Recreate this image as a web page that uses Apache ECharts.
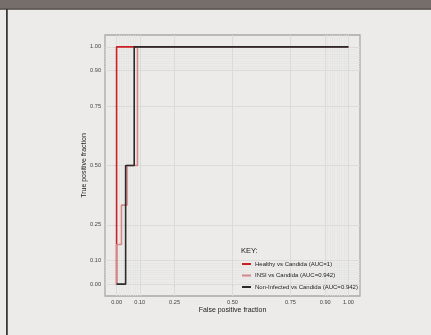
<!DOCTYPE html>
<html>
<head>
<meta charset="utf-8">
<script src="https://cdn.jsdelivr.net/npm/echarts@6/dist/echarts.min.js"></script>
<style>html,body{margin:0;padding:0;background:#ecebe9;}#c{width:431px;height:335px;}</style>
</head>
<body>
<div id="c"></div>
<script>
var majorTicks = [0, 0.1, 0.25, 0.5, 0.75, 0.9, 1];
var tickLabels = ['0.00', '0.10', '0.25', '0.50', '0.75', '0.90', '1.00'];
var minorTicks = [0,0.01,0.02,0.03,0.04,0.05,0.06,0.07,0.08,0.09,0.1,0.9,0.91,0.92,0.93,0.94,0.95,0.96,0.97,0.98,0.99,1];
var seriesNames = ['Healthy vs Candida (AUC=1)', 'INSI vs Candida (AUC=0.942)', 'Non-Infected vs Candida (AUC=0.942)'];
var healthy = [[0,0],[0,1],[1,1]];
var insi = [[0,0],[0,0.167],[0.021,0.167],[0.021,0.333],[0.045,0.333],[0.045,0.5],[0.09,0.5],[0.09,1],[1,1]];
var nonInfected = [[0,0],[0.039,0],[0.039,0.5],[0.076,0.5],[0.076,1],[1,1]];
var colors = ['#cc1f24', '#d4888a', '#2a2a2a'];

var chart = echarts.init(document.getElementById('c'), null, {renderer: 'canvas'});
var font = 'Liberation Sans, Arial, sans-serif';

function gridLines(vals, color, width) {
  var d = [];
  vals.forEach(function (v) { d.push({xAxis: v}); d.push({yAxis: v}); });
  return {
    type: 'line', data: [], silent: true, z: 1,
    markLine: {silent: true, symbol: 'none', label: {show: false}, animation: false, z: 1,
      lineStyle: {color: color, width: width, type: 'solid'}, emphasis: {disabled: true}, data: d}
  };
}

var labelMap = {};
majorTicks.forEach(function (v, i) { labelMap[v] = tickLabels[i]; });

function axis(name, isY) {
  return {
    type: 'value', min: -0.05, max: 1.05,
    name: name, nameLocation: 'middle', nameGap: isY ? 17 : 11, nameMoveOverlap: false,
    nameTextStyle: {fontFamily: font, fontSize: 7, color: '#222'},
    axisLine: {show: false},
    splitLine: {show: false},
    axisTick: {show: true, length: 2.5, customValues: majorTicks, lineStyle: {color: '#444', width: 0.8}},
    axisLabel: {show: true, customValues: majorTicks, fontFamily: font, fontSize: 5.6, color: '#444', margin: isY ? 4 : 3,
      formatter: function (v) { var k = Math.round(v * 100) / 100; return labelMap[k] !== undefined ? labelMap[k] : ''; }}
  };
}

function curve(i, data) {
  return {name: seriesNames[i], type: 'line', data: data, symbol: 'none', z: 10 + i,
    lineStyle: {color: colors[i], width: 1.6}, itemStyle: {color: colors[i]},
    emphasis: {disabled: true}};
}

var option = {
  backgroundColor: '#ecebe9',
  animation: false,
  graphic: [
    {type: 'rect', shape: {x: 0, y: 0, width: 431, height: 9}, style: {fill: '#766e6a'}},
    {type: 'rect', shape: {x: 0, y: 8.5, width: 431, height: 1.2}, style: {fill: '#4a4542'}},
    {type: 'rect', shape: {x: 6, y: 9, width: 1.8, height: 326}, style: {fill: '#3c3a38'}}
  ],
  title: {text: 'KEY:', left: 236, top: 242, textStyle: {fontFamily: font, fontSize: 7.5, fontWeight: 'normal', color: '#222'}},
  grid: {left: 105, top: 35, right: 71, bottom: 39, show: true, borderColor: '#a9a9a9', borderWidth: 1.3, backgroundColor: 'transparent', containLabel: false},
  xAxis: axis('False positive fraction', false),
  yAxis: axis('True positive fraction', true),
  legend: {
    orient: 'vertical', left: 237, top: 255, itemWidth: 9, itemHeight: 2, itemGap: 3.5,
    icon: 'rect', selectedMode: false,
    textStyle: {fontFamily: font, fontSize: 6, color: '#222', lineHeight: 8, padding: [0, 0, 0, -1]},
    data: seriesNames
  },
  series: [
    gridLines(minorTicks, '#e2e2e0', 0.6),
    gridLines(majorTicks, '#d9d9d7', 0.9),
    curve(0, healthy),
    curve(1, insi),
    curve(2, nonInfected)
  ]
};
chart.setOption(option);
</script>
</body>
</html>
